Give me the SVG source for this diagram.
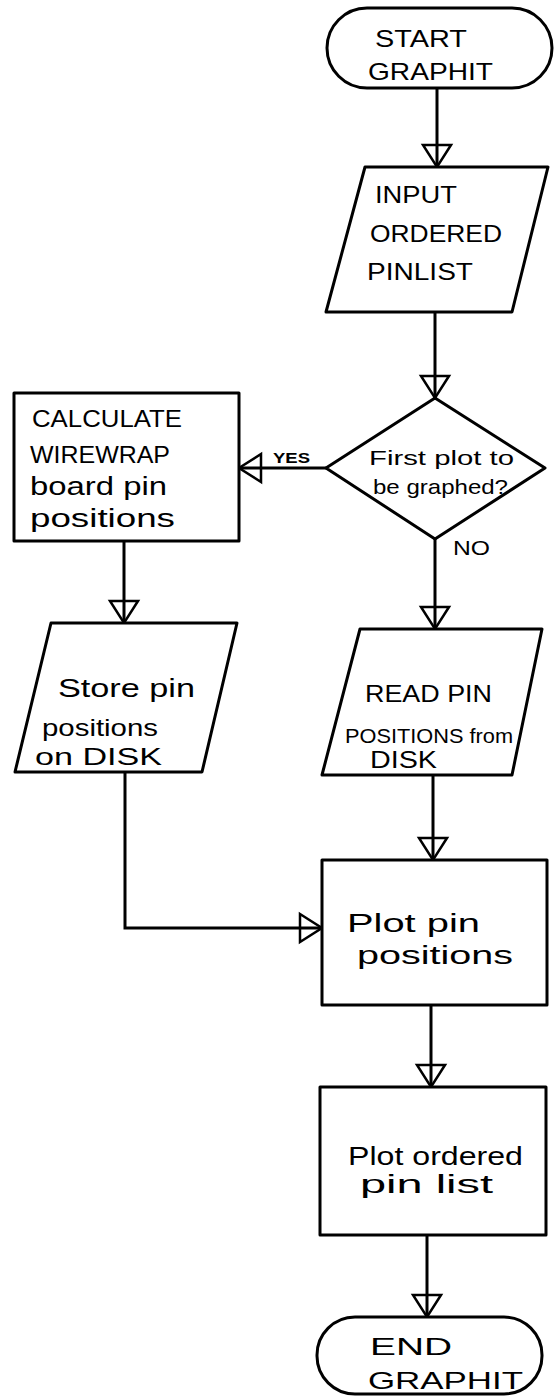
<svg xmlns="http://www.w3.org/2000/svg" width="556" height="1397" viewBox="0 0 556 1397">
  <style>
    .shape { fill: #fff; stroke: #000; stroke-width: 3; stroke-linejoin: round; }
    .edge { fill: none; stroke: #000; stroke-width: 3; }
    .t { font-family: "Liberation Sans", "DejaVu Sans", sans-serif; font-size: 24px; fill: #000; }
    .lc { font-size: 26px; }
    .s { font-size: 21px; }
    .xs { font-size: 15px; font-weight: bold; }
  </style>
  <defs>
    <!-- open triangular arrowhead; the line stays visible through it -->
    <marker id="arrow" viewBox="0 0 24 30" refX="23" refY="15" markerWidth="24" markerHeight="30" markerUnits="userSpaceOnUse" orient="auto" overflow="visible">
      <path d="M1,1 L23,15 L1,29 Z" fill="none" stroke="#000" stroke-width="2.5" stroke-linejoin="miter"/>
    </marker>
  </defs>

  <rect width="556" height="1397" fill="#fff"/>

  <g id="connectors">
    <path class="edge" d="M437,88 V167" marker-end="url(#arrow)"/>
    <path class="edge" d="M435,312 V398" marker-end="url(#arrow)"/>
    <path class="edge" d="M326,468 H239" marker-end="url(#arrow)"/>
    <path class="edge" d="M435,539 V629" marker-end="url(#arrow)"/>
    <path class="edge" d="M124,541 V623" marker-end="url(#arrow)"/>
    <path class="edge" d="M433,775 V860" marker-end="url(#arrow)"/>
    <path class="edge" d="M125,772 V928 H322" marker-end="url(#arrow)"/>
    <path class="edge" d="M431,1005 V1087" marker-end="url(#arrow)"/>
    <path class="edge" d="M427,1235 V1317" marker-end="url(#arrow)"/>
    <text class="t xs" x="273" y="463" textLength="37" lengthAdjust="spacingAndGlyphs">YES</text>
    <text class="t s" x="453" y="555" textLength="37" lengthAdjust="spacingAndGlyphs">NO</text>
  </g>

  <g id="start">
    <rect class="shape" x="327" y="8" width="225" height="80" rx="40" ry="40"/>
    <text class="t" x="375" y="47" textLength="92" lengthAdjust="spacingAndGlyphs">START</text>
    <text class="t" x="368" y="80" textLength="125" lengthAdjust="spacingAndGlyphs">GRAPHIT</text>
  </g>

  <g id="input">
    <polygon class="shape" points="365,167 548,167 512,312 326,312"/>
    <text class="t" x="375" y="203" textLength="82" lengthAdjust="spacingAndGlyphs">INPUT</text>
    <text class="t" x="370" y="242" textLength="132" lengthAdjust="spacingAndGlyphs">ORDERED</text>
    <text class="t" x="367" y="280" textLength="106" lengthAdjust="spacingAndGlyphs">PINLIST</text>
  </g>

  <g id="decision">
    <polygon class="shape" points="435,398 545,468 435,539 326,468"/>
    <text class="t s" x="369" y="465" textLength="145" lengthAdjust="spacingAndGlyphs">First plot to</text>
    <text class="t s" x="373" y="494" textLength="135" lengthAdjust="spacingAndGlyphs">be graphed?</text>
  </g>

  <g id="calculate">
    <rect class="shape" x="14" y="393" width="225" height="148"/>
    <text class="t" x="32" y="427" textLength="150" lengthAdjust="spacingAndGlyphs">CALCULATE</text>
    <text class="t" x="30" y="463" textLength="140" lengthAdjust="spacingAndGlyphs">WIREWRAP</text>
    <text class="t lc" x="30" y="495" textLength="137" lengthAdjust="spacingAndGlyphs">board pin</text>
    <text class="t lc" x="30" y="527" textLength="145" lengthAdjust="spacingAndGlyphs">positions</text>
  </g>

  <g id="store">
    <polygon class="shape" points="51,623 237,623 202,772 15,772"/>
    <text class="t lc" x="58" y="697" textLength="137" lengthAdjust="spacingAndGlyphs">Store pin</text>
    <text class="t" x="42" y="736" textLength="116" lengthAdjust="spacingAndGlyphs">positions</text>
    <text class="t" x="35" y="765" textLength="127" lengthAdjust="spacingAndGlyphs">on DISK</text>
  </g>

  <g id="read">
    <polygon class="shape" points="360,629 542,629 512,775 322,775"/>
    <text class="t" x="365" y="702" textLength="127" lengthAdjust="spacingAndGlyphs">READ PIN</text>
    <text class="t s" x="345" y="743" textLength="168" lengthAdjust="spacingAndGlyphs">POSITIONS from</text>
    <text class="t" x="370" y="768" textLength="67" lengthAdjust="spacingAndGlyphs">DISK</text>
  </g>

  <g id="plot-positions">
    <rect class="shape" x="322" y="860" width="225" height="145"/>
    <text class="t lc" x="347" y="932" textLength="133" lengthAdjust="spacingAndGlyphs">Plot pin</text>
    <text class="t lc" x="357" y="964" textLength="156" lengthAdjust="spacingAndGlyphs">positions</text>
  </g>

  <g id="plot-list">
    <rect class="shape" x="320" y="1087" width="226" height="148"/>
    <text class="t lc" x="348" y="1165" textLength="175" lengthAdjust="spacingAndGlyphs">Plot ordered</text>
    <text class="t lc" x="360" y="1193" textLength="133" lengthAdjust="spacingAndGlyphs">pin list</text>
  </g>

  <g id="end">
    <rect class="shape" x="317" y="1317" width="225" height="77" rx="38" ry="38"/>
    <text class="t" x="370" y="1355" textLength="82" lengthAdjust="spacingAndGlyphs">END</text>
    <text class="t" x="368" y="1389" textLength="155" lengthAdjust="spacingAndGlyphs">GRAPHIT</text>
  </g>
</svg>
